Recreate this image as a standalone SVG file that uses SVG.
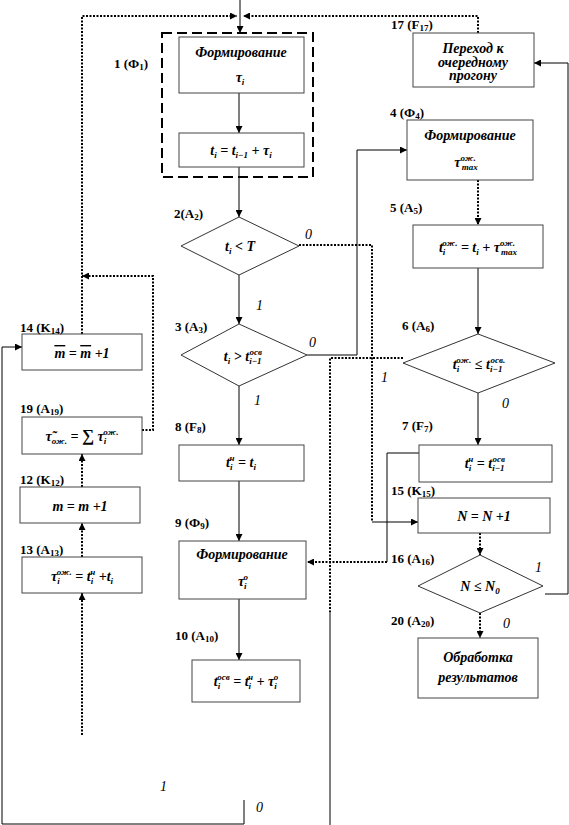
<svg xmlns="http://www.w3.org/2000/svg" width="569" height="825" viewBox="0 0 569 825">
<style>
.box{fill:#fff;stroke:#444;stroke-width:1}
.dia{fill:#fff;stroke:#333;stroke-width:1}
.grp{fill:none;stroke:#000;stroke-width:2;stroke-dasharray:10 5}
.lbl{font-family:"Liberation Serif",serif;font-weight:bold;font-size:13px;fill:#000}
.m{font-family:"Liberation Serif",serif;font-weight:bold;font-style:italic;font-size:14px;fill:#000;text-anchor:middle}
.s{font-size:9px}
.br{font-family:"Liberation Serif",serif;font-style:italic;font-size:14px;fill:#000}
.sol{fill:none;stroke:#000;stroke-width:1}
.dot{fill:none;stroke:#000;stroke-width:2;stroke-dasharray:2 1.5}
</style>
<defs>
<marker id="ah" viewBox="0 0 10 10" refX="10" refY="5" markerWidth="7" markerHeight="7" markerUnits="userSpaceOnUse" orient="auto"><path d="M0,0 L10,5 L0,10 z" fill="#000"/></marker>
</defs>

<g id="connectors">
<path class="sol" d="M240,0 V33" marker-end="url(#ah)"/>
<path class="dot" d="M82,334 V16 H237" marker-end="url(#ah)"/>
<path class="dot" d="M478,33 V16 H243" marker-end="url(#ah)"/>
<path class="sol" d="M239,93 V133" marker-end="url(#ah)"/>
<path class="sol" d="M239,167 V217" marker-end="url(#ah)"/>
<path class="sol" d="M239,275 V324" marker-end="url(#ah)"/>
<path class="sol" d="M239,386 V445" marker-end="url(#ah)"/>
<path class="sol" d="M239,481 V541" marker-end="url(#ah)"/>
<path class="sol" d="M239,599 V660" marker-end="url(#ah)"/>
<path class="dot" d="M299,245 H372 V522"/>
<path class="sol" d="M372,522 H418" marker-end="url(#ah)"/>
<path class="sol" d="M307,355 H357 V150 H407" marker-end="url(#ah)"/>
<path class="dot" d="M403,358 H330 V612"/>
<path class="sol" d="M330,612 V825"/>
<path class="sol" d="M419,453 H387 V562"/>
<path class="dot" d="M387,562 H307" marker-end="url(#ah)"/>
<path class="dot" d="M478,180 V225" marker-end="url(#ah)"/>
<path class="sol" d="M478,268 V334" marker-end="url(#ah)"/>
<path class="sol" d="M478,393 V445" marker-end="url(#ah)"/>
<path class="dot" d="M480,533 V555" marker-end="url(#ah)"/>
<path class="dot" d="M480,613 V638" marker-end="url(#ah)"/>
<path class="sol" d="M545,594 H568 V63 H534" marker-end="url(#ah)"/>
<path class="dot" d="M142,430 H153 V276 H82" marker-end="url(#ah)"/>
<path class="dot" d="M82,487 V454" marker-end="url(#ah)"/>
<path class="dot" d="M82,557 V523" marker-end="url(#ah)"/>
<path class="dot" d="M82,735 V593" marker-end="url(#ah)"/>
<path class="sol" d="M244,800 V824 H2 V347 H22" marker-end="url(#ah)"/>
</g>

<g id="branch-labels">
<text class="br" x="305" y="239">0</text>
<text class="br" x="256" y="310">1</text>
<text class="br" x="309" y="347">0</text>
<text class="br" x="254" y="405">1</text>
<text class="br" x="381" y="382">1</text>
<text class="br" x="502" y="408">0</text>
<text class="br" x="535" y="572">1</text>
<text class="br" x="503" y="628">0</text>
<text class="br" x="160" y="791">1</text>
<text class="br" x="256" y="812">0</text>
</g>

<g id="n1">
<rect class="grp" x="162" y="33" width="151" height="144"/>
<text class="lbl" x="114" y="68">1 (Ф<tspan class="s" dy="2">1</tspan><tspan dy="-2">)</tspan></text>
</g>
<g id="n1a">
<rect class="box" x="179" y="37" width="125" height="56"/>
<text class="m" x="241" y="57">Формирование</text>
<text class="m" x="240" y="82">τ<tspan class="s" dy="3">i</tspan></text>
</g>
<g id="n1b">
<rect class="box" x="179" y="133" width="125" height="34"/>
<text class="m" x="241" y="155">t<tspan class="s" dy="3">i</tspan><tspan dy="-3"> = t</tspan><tspan class="s" dy="3">i−1</tspan><tspan dy="-3"> + τ</tspan><tspan class="s" dy="3">i</tspan></text>
</g>
<g id="n2">
<polygon class="dia" points="239,217 299,246 239,275 181,246"/>
<text class="m" x="240" y="251">t<tspan class="s" dy="3">i</tspan><tspan dy="-3"> &lt; T</tspan></text>
<text class="lbl" x="174" y="218">2(A<tspan class="s" dy="2">2</tspan><tspan dy="-2">)</tspan></text>
</g>
<g id="n3">
<polygon class="dia" points="239,324 307,355 239,386 181,355"/>
<text class="m" x="243" y="361">t<tspan class="s" dy="3">i</tspan><tspan dy="-3"> &gt; t</tspan><tspan class="s" dy="3">i−1</tspan><tspan class="s" dx="-12" dy="-9">осв</tspan></text>
<text class="lbl" x="175" y="331">3 (A<tspan class="s" dy="2">3</tspan><tspan dy="-2">)</tspan></text>
</g>
<g id="n8">
<rect class="box" x="179" y="445" width="125" height="36"/>
<text class="m" x="241" y="467">t<tspan class="s" dy="3">i</tspan><tspan class="s" dx="-3" dy="-9">н</tspan><tspan dy="6"> = t</tspan><tspan class="s" dy="3">i</tspan></text>
<text class="lbl" x="175" y="431">8 (F<tspan class="s" dy="2">8</tspan><tspan dy="-2">)</tspan></text>
</g>
<g id="n9">
<rect class="box" x="179" y="541" width="127" height="58"/>
<text class="m" x="242" y="559">Формирование</text>
<text class="m" x="243" y="586">τ<tspan class="s" dy="3">i</tspan><tspan class="s" dx="-3" dy="-9">о</tspan></text>
<text class="lbl" x="175" y="527">9 (Ф<tspan class="s" dy="2">9</tspan><tspan dy="-2">)</tspan></text>
</g>
<g id="n10">
<rect class="box" x="192" y="660" width="108" height="42"/>
<text class="m" x="246" y="686">t<tspan class="s" dy="3">i</tspan><tspan class="s" dx="-3" dy="-9">осв</tspan><tspan dy="6"> = t</tspan><tspan class="s" dy="3">i</tspan><tspan class="s" dx="-3" dy="-9">н</tspan><tspan dy="6"> + τ</tspan><tspan class="s" dy="3">i</tspan><tspan class="s" dx="-3" dy="-9">о</tspan></text>
<text class="lbl" x="175" y="640">10 (A<tspan class="s" dy="2">10</tspan><tspan dy="-2">)</tspan></text>
</g>
<g id="n17">
<rect class="box" x="413" y="33" width="121" height="54"/>
<text class="m" x="473" y="53" font-size="12">Переход к</text>
<text class="m" x="473" y="66.5" font-size="12">очередному</text>
<text class="m" x="473" y="80" font-size="12">прогону</text>
<text class="lbl" x="391" y="29">17 (F<tspan class="s" dy="2">17</tspan><tspan dy="-2">)</tspan></text>
</g>
<g id="n4">
<rect class="box" x="407" y="120" width="126" height="60"/>
<text class="m" x="470" y="140">Формирование</text>
<text class="m" x="466" y="167">τ<tspan class="s" dy="-6">ож.</tspan><tspan class="s" dx="-14" dy="9">max</tspan></text>
<text class="lbl" x="390" y="117">4 (Ф<tspan class="s" dy="2">4</tspan><tspan dy="-2">)</tspan></text>
</g>
<g id="n5">
<rect class="box" x="413" y="225" width="130" height="43"/>
<text class="m" x="478" y="252">t<tspan class="s" dy="3">i</tspan><tspan class="s" dx="-3" dy="-9">ож.</tspan><tspan dy="6"> = t</tspan><tspan class="s" dy="3">i</tspan><tspan dy="-3"> + τ</tspan><tspan class="s" dy="-6">ож.</tspan><tspan class="s" dx="-14" dy="9">max</tspan></text>
<text class="lbl" x="390" y="212">5 (A<tspan class="s" dy="2">5</tspan><tspan dy="-2">)</tspan></text>
</g>
<g id="n6">
<polygon class="dia" points="478,334 555,363 478,393 403,363"/>
<text class="m" x="479" y="369">t<tspan class="s" dy="3">i</tspan><tspan class="s" dx="-3" dy="-9">ож.</tspan><tspan dy="6"> ≤ t</tspan><tspan class="s" dy="3">i−1</tspan><tspan class="s" dx="-12" dy="-9">осв.</tspan></text>
<text class="lbl" x="402" y="330">6 (A<tspan class="s" dy="2">6</tspan><tspan dy="-2">)</tspan></text>
</g>
<g id="n7">
<rect class="box" x="419" y="445" width="133" height="37"/>
<text class="m" x="485" y="468">t<tspan class="s" dy="3">i</tspan><tspan class="s" dx="-3" dy="-9">н</tspan><tspan dy="6"> = t</tspan><tspan class="s" dy="3">i−1</tspan><tspan class="s" dx="-12" dy="-9">осв</tspan></text>
<text class="lbl" x="402" y="430">7 (F<tspan class="s" dy="2">7</tspan><tspan dy="-2">)</tspan></text>
</g>
<g id="n15">
<rect class="box" x="418" y="498" width="132" height="35"/>
<text class="m" x="484" y="521">N = N +1</text>
<text class="lbl" x="391" y="495">15 (K<tspan class="s" dy="2">15</tspan><tspan dy="-2">)</tspan></text>
</g>
<g id="n16">
<polygon class="dia" points="480,555 543,586 480,613 418,586"/>
<text class="m" x="480" y="591">N ≤ N<tspan class="s" dy="3">0</tspan></text>
<text class="lbl" x="391" y="563">16 (A<tspan class="s" dy="2">16</tspan><tspan dy="-2">)</tspan></text>
</g>
<g id="n20">
<rect class="box" x="418" y="638" width="120" height="60"/>
<text class="m" x="478" y="662" font-size="13.5">Обработка</text>
<text class="m" x="478" y="682" font-size="13.5">результатов</text>
<text class="lbl" x="391" y="625">20 (A<tspan class="s" dy="2">20</tspan><tspan dy="-2">)</tspan></text>
</g>
<g id="n14">
<rect class="box" x="22" y="334" width="120" height="36"/>
<text class="m" x="82" y="358"><tspan text-decoration="overline">m</tspan> = <tspan text-decoration="overline">m</tspan> +1</text>
<text class="lbl" x="20" y="332">14 (K<tspan class="s" dy="2">14</tspan><tspan dy="-2">)</tspan></text>
</g>
<g id="n19">
<rect class="box" x="22" y="417" width="120" height="37"/>
<text class="m" x="82" y="441">τ̃<tspan class="s" dy="3">ож.</tspan><tspan dy="-3"> = </tspan><tspan font-size="17">∑</tspan><tspan> τ</tspan><tspan class="s" dy="3">i</tspan><tspan class="s" dx="-3" dy="-9">ож.</tspan></text>
<text class="lbl" x="20" y="413">19 (A<tspan class="s" dy="2">19</tspan><tspan dy="-2">)</tspan></text>
</g>
<g id="n12">
<rect class="box" x="20" y="487" width="120" height="36"/>
<text class="m" x="80" y="511">m = m +1</text>
<text class="lbl" x="20" y="484">12 (K<tspan class="s" dy="2">12</tspan><tspan dy="-2">)</tspan></text>
</g>
<g id="n13">
<rect class="box" x="22" y="557" width="120" height="36"/>
<text class="m" x="82" y="581">τ<tspan class="s" dy="3">i</tspan><tspan class="s" dx="-3" dy="-9">ож.</tspan><tspan dy="6"> = t</tspan><tspan class="s" dy="3">i</tspan><tspan class="s" dx="-3" dy="-9">н</tspan><tspan dy="6"> +t</tspan><tspan class="s" dy="3">i</tspan></text>
<text class="lbl" x="20" y="554">13 (A<tspan class="s" dy="2">13</tspan><tspan dy="-2">)</tspan></text>
</g>
</svg>
